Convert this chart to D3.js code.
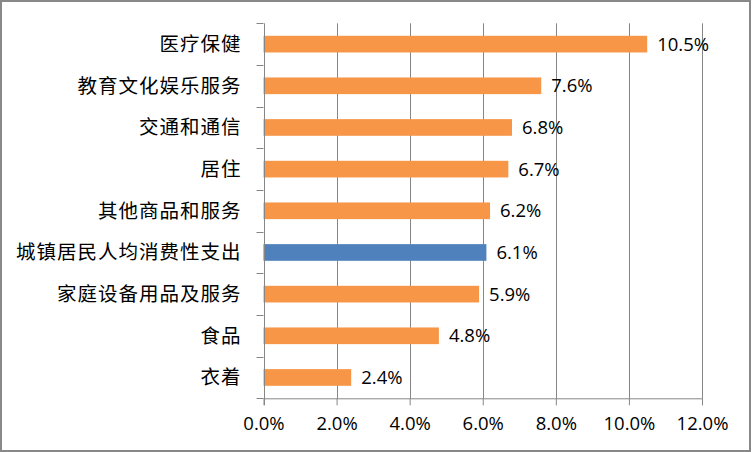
<!DOCTYPE html>
<html><head><meta charset="utf-8">
<script src="https://cdn.jsdelivr.net/npm/d3@7"></script>
<style>body{margin:0;background:#fff}svg{display:block}</style>
</head><body>
<script>
const categories = ["医疗保健","教育文化娱乐服务","交通和通信","居住","其他商品和服务","城镇居民人均消费性支出","家庭设备用品及服务","食品","衣着"];
const values = [10.5, 7.6, 6.8, 6.7, 6.2, 6.1, 5.9, 4.8, 2.4];
const highlight = ["城镇居民人均消费性支出"];
const xTicks = [0, 2, 4, 6, 8, 10, 12];

const W = 752, H = 452;
const plot = {left: 263.5, right: 702, top: 23.3, bottom: 398.3};
const svg = d3.select("body").append("svg").attr("width", W).attr("height", H);
svg.append("rect").attr("x", 1).attr("y", 1).attr("width", 749).attr("height", 450)
  .attr("fill", "#fff").attr("stroke", "#888").attr("stroke-width", 2);

const x = d3.scaleLinear().domain([0, 12]).range([plot.left, plot.right]);
const y = d3.scaleBand().domain(categories).range([plot.top, plot.bottom]).paddingInner(0.6).paddingOuter(0.3);
const yb = d3.scaleBand().domain(categories).range([plot.top, plot.bottom]);
const grey = "#868686";
const numFont = "'Open Sans', sans-serif";
const cjkFont = "'Noto Sans CJK SC', sans-serif";

// gridlines
svg.append("g").selectAll("line").data(xTicks.slice(1)).join("line")
  .attr("x1", d => Math.round(x(d)) + 0.5).attr("x2", d => Math.round(x(d)) + 0.5)
  .attr("y1", plot.top).attr("y2", plot.bottom)
  .attr("stroke", grey).attr("stroke-width", 1);

// bars
svg.append("g").selectAll("rect").data(categories).join("rect")
  .attr("x", x(0)).attr("y", d => y(d)).attr("height", y.bandwidth())
  .attr("width", (d, i) => x(values[i]) - x(0))
  .attr("fill", d => highlight.includes(d) ? "#4F81BD" : "#F79646");

// bottom axis
const xAxis = d3.axisBottom(x).tickValues(xTicks).tickSize(7).tickSizeOuter(0)
  .tickFormat(d => d.toFixed(1) + "%").tickPadding(12);
const gx = svg.append("g").attr("transform", `translate(0,${plot.bottom})`).call(xAxis);
gx.select(".domain").attr("stroke", grey);
gx.selectAll(".tick line").attr("stroke", grey);
gx.selectAll(".tick text").attr("fill", "#000").attr("font-size", 18.5).attr("font-family", numFont);

// left axis with ticks at band boundaries
const gy = svg.append("g");
gy.append("line").attr("x1", Math.round(plot.left) + 0.5).attr("x2", Math.round(plot.left) + 0.5)
  .attr("y1", plot.top).attr("y2", plot.bottom + 7).attr("stroke", grey);
const bounds = categories.map(c => yb(c)).concat([plot.bottom]);
gy.selectAll("line.t").data(bounds).join("line").attr("class", "t")
  .attr("x1", plot.left - 7).attr("x2", plot.left)
  .attr("y1", d => Math.round(d) + 0.5).attr("y2", d => Math.round(d) + 0.5)
  .attr("stroke", grey);
gy.selectAll("text").data(categories).join("text")
  .attr("x", plot.left - 22).attr("y", d => yb(d) + yb.bandwidth() / 2)
  .attr("dy", "0.35em").attr("text-anchor", "end")
  .attr("font-size", 19.5).attr("font-family", cjkFont).attr("letter-spacing", 1)
  .attr("fill", "#000").text(d => d);

// value labels
svg.append("g").selectAll("text").data(categories).join("text")
  .attr("x", (d, i) => x(values[i]) + 10).attr("y", d => yb(d) + yb.bandwidth() / 2)
  .attr("dy", "0.36em").attr("font-size", 18.5).attr("font-family", numFont)
  .attr("fill", "#000").text((d, i) => values[i].toFixed(1) + "%");
</script>
</body></html>
